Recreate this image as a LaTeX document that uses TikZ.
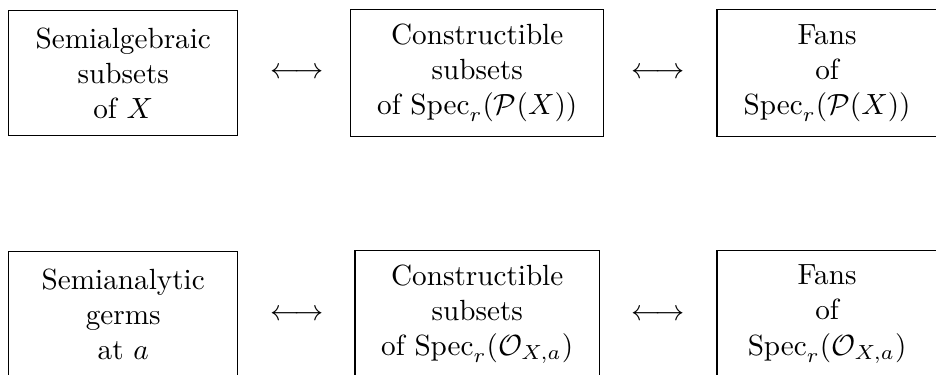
\documentclass[tikz,border=0pt]{standalone}
\begin{document}
\begin{tikzpicture}[x=1pt,y=1pt,
  box/.style={draw, align=center, inner xsep=9pt, inner ysep=5pt, minimum height=43pt},
  colA/.style={box, minimum width=78.5pt},
  colB/.style={box, minimum width=83.7pt},
  colC/.style={box, minimum width=75.4pt},
  corr/.style={inner sep=0pt}]
\useasboundingbox (0,0) rectangle (320.5,-128.1);
% top row
\node[colA] (a1) at (42.2,-25) {Semialgebraic\\subsets\\of $X$};
\node[colB] (a2) at (163.4,-25) {Constructible\\subsets\\of $\mathrm{Spec}_r(\mathcal{P}(X))$};
\node[colC] (a3) at (283.2,-25) {Fans\\of\\$\mathrm{Spec}_r(\mathcal{P}(X))$};
\node[corr] (ar1) at (101.7,-25) {$\longleftrightarrow$};
\node[corr] (ar2) at (225.3,-25) {$\longleftrightarrow$};
% bottom row
\node[colA] (b1) at (42.2,-107.6) {Semianalytic\\germs\\at $a$};
\node[colB] (b2) at (163.4,-107.6) {Constructible\\subsets\\of $\mathrm{Spec}_r(\mathcal{O}_{X,a})$};
\node[colC] (b3) at (283.2,-107.6) {Fans\\of\\$\mathrm{Spec}_r(\mathcal{O}_{X,a})$};
\node[corr] (br1) at (101.7,-107.9) {$\longleftrightarrow$};
\node[corr] (br2) at (225.3,-107.9) {$\longleftrightarrow$};
\end{tikzpicture}
\end{document}
